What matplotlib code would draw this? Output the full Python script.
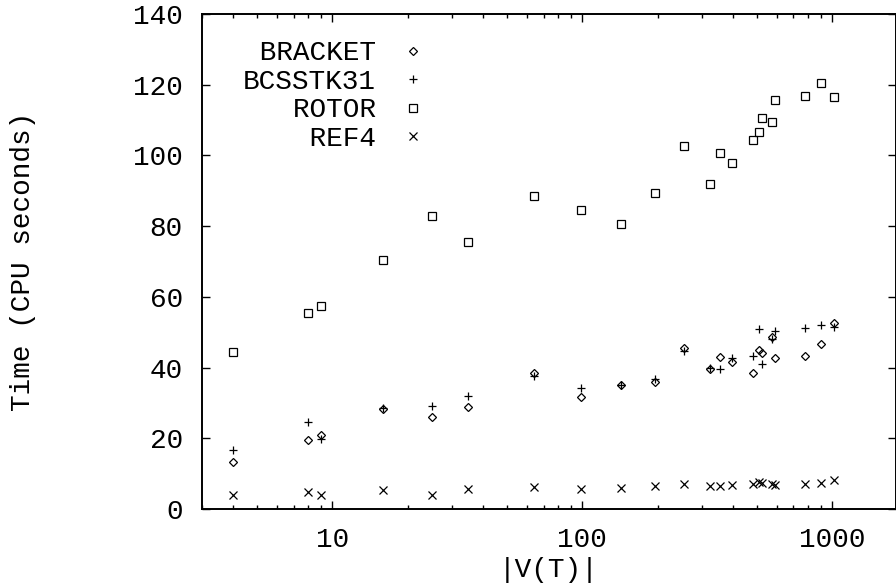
import numpy as np
import matplotlib
matplotlib.use("Agg")
import matplotlib.pyplot as plt
from matplotlib.ticker import FixedLocator, NullFormatter

# problem size |V(T)| for each test run
nodes = [4, 8, 9, 16, 25, 35, 64, 99, 143, 195, 256, 323, 356, 398,
         482, 511, 525, 575, 590, 775, 898, 1020]

# CPU seconds per matrix
bracket = [13.4, 19.4, 20.8, 28.4, 26.1, 28.9, 38.5, 31.8, 35.0, 36.0, 45.4,
           39.7, 43.1, 41.6, 38.6, 45.0, 44.2, 48.7, 42.6, 43.3, 46.6, 52.5]
bcsstk31 = [16.7, 24.5, 19.7, 28.6, 29.2, 32.1, 37.6, 34.1, 35.1, 36.8, 44.8,
            39.9, 39.6, 42.6, 43.4, 50.8, 41.0, 48.0, 50.4, 51.2, 51.9, 51.6]
rotor = [44.5, 55.3, 57.4, 70.4, 82.9, 75.6, 88.6, 84.7, 80.7, 89.3, 102.8,
         92.0, 100.8, 98.0, 104.5, 106.7, 110.5, 109.4, 115.6, 116.7, 120.5, 116.6]
ref4 = [3.9, 4.7, 3.9, 5.4, 3.9, 5.6, 6.3, 5.6, 5.9, 6.5, 7.1,
        6.5, 6.5, 6.9, 7.1, 7.6, 7.3, 7.1, 6.7, 7.1, 7.3, 8.2]

x_ticks = [10, 100, 1000]
y_ticks = [0, 20, 40, 60, 80, 100, 120, 140]

FONT = "Liberation Mono"
FS = 20

fig = plt.figure(figsize=(8.96, 5.86), dpi=100)
ax = fig.add_axes([0.2251, 0.1314, 0.7749, 0.8447])

mk = dict(linestyle="none", color="black", markerfacecolor="none", markeredgewidth=0.9)
# pad labels so the monospaced text ends flush right, gnuplot style
ax.plot(nodes, bracket, marker="D", markersize=4.3, label=" BRACKET", **mk)
ax.plot(nodes, bcsstk31, marker="+", markersize=6.0, label="BCSSTK31", **mk)
ax.plot(nodes, rotor, marker="s", markersize=6.2, label="   ROTOR", **mk)
ax.plot(nodes, ref4, marker="x", markersize=6.0, label="    REF4", **mk)

ax.set_xscale("log")
ax.set_xlim(3, 1800)
ax.set_ylim(0, 140)

ax.xaxis.set_major_locator(FixedLocator(x_ticks))
ax.set_xticklabels([str(v) for v in x_ticks])
minors = [m * d for d in (1, 10, 100, 1000) for m in range(2, 10)]
ax.xaxis.set_minor_locator(FixedLocator(minors))
ax.xaxis.set_minor_formatter(NullFormatter())
ax.set_yticks(y_ticks)

ax.tick_params(which="both", direction="in", top=True, right=True, width=1.0)
ax.tick_params(which="major", length=6)
ax.tick_params(which="minor", length=3.2)
ax.tick_params(axis="y", pad=13.5)
ax.tick_params(axis="x", pad=13)
for lbl in ax.get_xticklabels() + ax.get_yticklabels():
    lbl.set_fontfamily(FONT)
    lbl.set_fontsize(FS)
for sp in ax.spines.values():
    sp.set_linewidth(1.4)

ax.set_xlabel("|V(T)|", fontfamily=FONT, fontsize=FS)
ax.set_ylabel("Time (CPU seconds)", fontfamily=FONT, fontsize=FS)
ax.xaxis.set_label_coords(0.5, -0.096)
ax.yaxis.set_label_coords(-0.238, 0.5)

ax.legend(loc="upper left", bbox_to_anchor=(0.059, 0.947), frameon=False,
          markerfirst=False, handlelength=1.0, handletextpad=0.85,
          labelspacing=0.09, borderpad=0, borderaxespad=0,
          prop={"family": FONT, "size": FS})

fig.savefig("out.png", dpi=100)
